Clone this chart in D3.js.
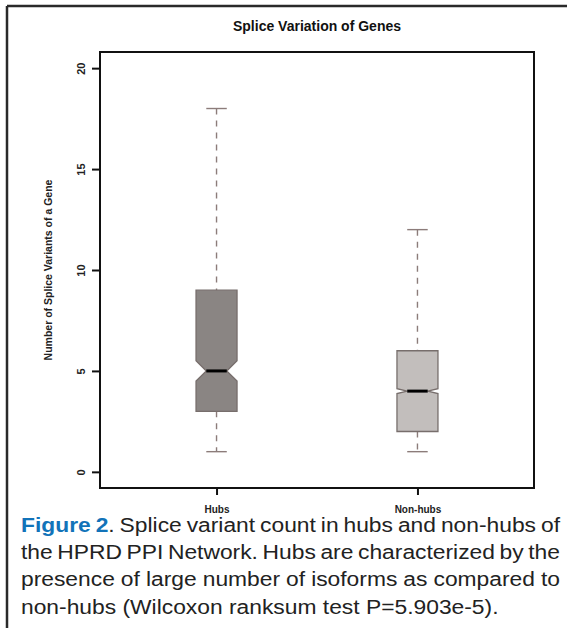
<!DOCTYPE html>
<html>
<head>
<meta charset="utf-8">
<script src="https://cdn.jsdelivr.net/npm/d3@7/dist/d3.min.js"></script>
<style>
  html, body { margin: 0; padding: 0; background: #fff; }
  svg { display: block; }
</style>
</head>
<body>
<svg id="chart" width="567" height="628"></svg>
<script>
// ---- data ----
const categories   = ["Hubs", "Non-hubs"];
const whiskerLow   = [1, 1];
const q1           = [3, 2];
const median       = [5, 4];
const q3           = [9, 6];
const whiskerHigh  = [18, 12];
const notchLow     = [4.5, 3.88];
const notchHigh    = [5.5, 4.12];
const yTicks       = [0, 5, 10, 15, 20];
const fills        = ["#8a8583", "#c2bebc"];

const title  = "Splice Variation of Genes";
const yLabel = "Number of Splice Variants of a Gene";
const captionLines = [
  [[["Figure", "fig"]], [["2", "fig"], [".", "txt"]], [["Splice","txt"]], [["variant","txt"]], [["count","txt"]], [["in","txt"]], [["hubs","txt"]], [["and","txt"]], [["non-hubs","txt"]], [["of","txt"]]],
  "the HPRD PPI Network. Hubs are characterized by the",
  "presence of large number of isoforms as compared to",
  "non-hubs (Wilcoxon ranksum test P=5.903e-5)."
];

// ---- layout ----
const svg = d3.select("#chart");
const plot = { left: 100, right: 534, top: 52, bottom: 488 };

const x = d3.scalePoint().domain(categories).range([plot.left, plot.right]).padding(0.58);
const y = d3.scaleLinear().domain([-0.8, 20.8]).range([plot.bottom, plot.top]);
const halfW = 20.5;

// outer frame (top and left rules)
svg.append("line").attr("x1", 7).attr("x2", 567).attr("y1", 6).attr("y2", 6)
  .attr("stroke", "#2a2a2a").attr("stroke-width", 2.5);
svg.append("line").attr("x1", 7).attr("x2", 7).attr("y1", 6).attr("y2", 628)
  .attr("stroke", "#2a2a2a").attr("stroke-width", 2.5);

// title
svg.append("text").attr("x", (plot.left + plot.right) / 2).attr("y", 31)
  .attr("text-anchor", "middle")
  .style("font-family", "'Liberation Sans', Arial, sans-serif")
  .style("font-weight", "bold").style("font-size", "14px").attr("fill", "#111")
  .text(title);

// boxes
const data = categories.map((c, i) => ({
  c, lo: whiskerLow[i], q1: q1[i], med: median[i], q3: q3[i], hi: whiskerHigh[i],
  nlo: notchLow[i], nhi: notchHigh[i], fill: fills[i]
}));

const g = svg.append("g");
data.forEach(d => {
  const cx = x(d.c);
  const dashCol = "#8c7c7a";
  g.append("line").attr("x1", cx).attr("x2", cx).attr("y1", y(d.hi)).attr("y2", y(d.q3))
    .attr("stroke", dashCol).attr("stroke-width", 1.4).attr("stroke-dasharray", "6,6");
  g.append("line").attr("x1", cx).attr("x2", cx).attr("y1", y(d.q1)).attr("y2", y(d.lo))
    .attr("stroke", dashCol).attr("stroke-width", 1.4).attr("stroke-dasharray", "6,6");
  [d.hi, d.lo].forEach(v => {
    g.append("line").attr("x1", cx - halfW / 2).attr("x2", cx + halfW / 2)
      .attr("y1", y(v)).attr("y2", y(v)).attr("stroke", dashCol).attr("stroke-width", 1.4);
  });
  const pts = [
    [cx - halfW, y(d.q3)], [cx + halfW, y(d.q3)], [cx + halfW, y(d.nhi)],
    [cx + halfW / 2, y(d.med)], [cx + halfW, y(d.nlo)], [cx + halfW, y(d.q1)],
    [cx - halfW, y(d.q1)], [cx - halfW, y(d.nlo)], [cx - halfW / 2, y(d.med)],
    [cx - halfW, y(d.nhi)]
  ];
  g.append("path").attr("d", d3.line()(pts) + "Z")
    .attr("fill", d.fill).attr("stroke", "#776e6c").attr("stroke-width", 1.3);
  g.append("line").attr("x1", cx - halfW / 2).attr("x2", cx + halfW / 2)
    .attr("y1", y(d.med)).attr("y2", y(d.med)).attr("stroke", "#000").attr("stroke-width", 3);
});

// plot frame
svg.append("rect").attr("x", plot.left).attr("y", plot.top)
  .attr("width", plot.right - plot.left).attr("height", plot.bottom - plot.top)
  .attr("fill", "none").attr("stroke", "#111").attr("stroke-width", 2);

// y axis
const yAxis = svg.append("g").attr("transform", `translate(${plot.left},0)`)
  .call(d3.axisLeft(y).tickValues(yTicks).tickSize(8).tickFormat(d3.format("d")));
yAxis.select(".domain").remove();
yAxis.selectAll(".tick line").attr("stroke", "#111").attr("stroke-width", 2);
yAxis.selectAll(".tick text")
  .attr("x", null).attr("dy", null)
  .attr("transform", "translate(-15,0) rotate(-90)")
  .attr("text-anchor", "middle").attr("dy", "0em")
  .style("font-family", "'Liberation Sans', Arial, sans-serif")
  .style("font-weight", "bold").style("font-size", "11px").attr("fill", "#222");

// x axis
const xAxis = svg.append("g").attr("transform", `translate(0,${plot.bottom})`)
  .call(d3.axisBottom(x).tickSize(7));
xAxis.select(".domain").remove();
xAxis.selectAll(".tick line").attr("stroke", "#111").attr("stroke-width", 2);
xAxis.selectAll(".tick text").attr("y", 24.5).attr("dy", 0)
  .style("font-family", "'Liberation Sans', Arial, sans-serif")
  .style("font-weight", "bold").style("font-size", "10px").attr("fill", "#222");

// y label
svg.append("text")
  .attr("transform", `translate(52,${(plot.top + plot.bottom) / 2}) rotate(-90)`)
  .attr("text-anchor", "middle")
  .style("font-family", "'Liberation Sans', Arial, sans-serif")
  .style("font-weight", "bold").style("font-size", "10.5px").attr("fill", "#222")
  .text(yLabel);

// caption (justified, horizontally widened type like the scan)
const capLeft = 21, capRight = 560;
const baselines = [532, 559, 586, 614];
const capFont = "'Liberation Sans', Arial, sans-serif";
const sx = 1.17;
captionLines.forEach((line, li) => {
  const words = typeof line === "string" ? line.split(" ").map(w => [[w, "txt"]]) : line;
  const texts = words.map(segs => {
    const t = svg.append("text")
      .style("font-family", capFont).style("font-size", "19.5px");
    segs.forEach(([s, k]) => {
      t.append("tspan").text(s)
        .attr("fill", k === "fig" ? "#1273b9" : "#222")
        .style("font-weight", k === "fig" ? "bold" : "normal");
    });
    return t;
  });
  const widths = texts.map(t => t.node().getComputedTextLength() * sx);
  const total = d3.sum(widths);
  const last = li === captionLines.length - 1;
  const spaceW = 5.42 * sx;
  const gap = last ? spaceW : (capRight - capLeft - total) / (texts.length - 1);
  let cx = capLeft;
  texts.forEach((t, i) => {
    t.attr("transform", `translate(${cx},${baselines[li]}) scale(${sx},1)`);
    cx += widths[i] + gap;
  });
});
</script>
</body>
</html>
